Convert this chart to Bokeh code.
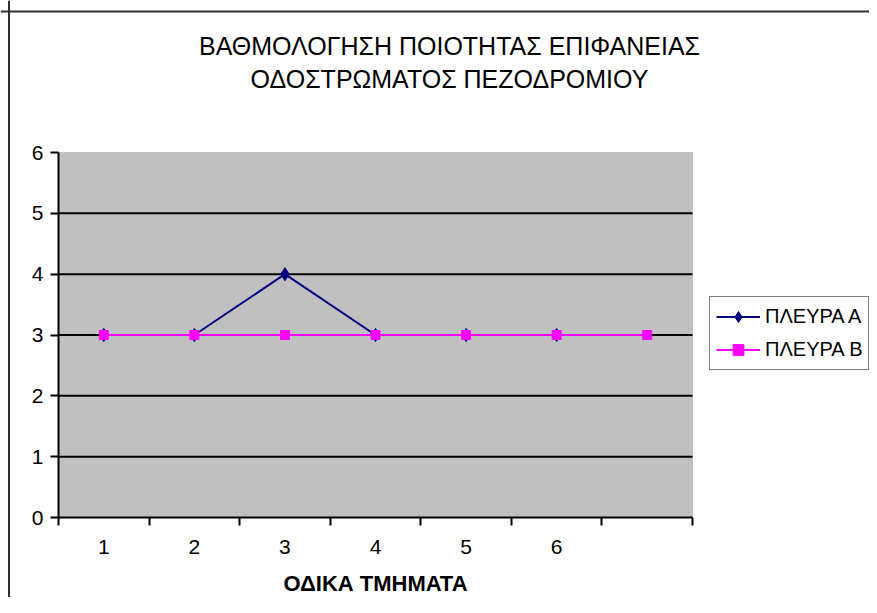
from bokeh.plotting import figure
from bokeh.models import Range1d, FixedTicker, Legend, LegendItem, Label, BoxAnnotation, Span
from bokeh.embed import file_html
from bokeh.resources import INLINE

# ---- data ----
title_lines = ["ΒΑΘΜΟΛΟΓΗΣΗ ΠΟΙΟΤΗΤΑΣ ΕΠΙΦΑΝΕΙΑΣ", "ΟΔΟΣΤΡΩΜΑΤΟΣ ΠΕΖΟΔΡΟΜΙΟΥ"]
x_title = "ΟΔΙΚΑ ΤΜΗΜΑΤΑ"
categories = ["1", "2", "3", "4", "5", "6", ""]
side_a_name = "ΠΛΕΥΡΑ Α"
side_b_name = "ΠΛΕΥΡΑ Β"
side_a = [3, 3, 4, 3, 3, 3]
side_b = [3, 3, 3, 3, 3, 3, 3]
y_ticks = [0, 1, 2, 3, 4, 5, 6]
grid_levels = [1, 2, 3, 4, 5]

FONT = "Liberation Sans"

n = len(categories)
pos = list(range(1, n + 1))
xa = pos[:len(side_a)]
xb = pos[:len(side_b)]
x_lo, x_hi = 0.5, n + 0.5
y_lo, y_hi = y_ticks[0], y_ticks[-1]

# ---- layout (pixels) ----
W, H = 869, 597
PA_LEFT, PA_RIGHT = 58, 692   # plot area inside canvas
PA_TOP, PA_BOTTOM = 152, 517
px_x = (PA_RIGHT - PA_LEFT) / (x_hi - x_lo)
px_y = (PA_BOTTOM - PA_TOP) / (y_hi - y_lo)
xr = Range1d(x_lo - PA_LEFT / px_x, x_hi + (W - PA_RIGHT) / px_x)
yr = Range1d(y_lo - (H - PA_BOTTOM) / px_y, y_hi + PA_TOP / px_y)

p = figure(width=W, height=H, output_backend="svg", toolbar_location=None,
           x_range=xr, y_range=yr,
           min_border=0, min_border_left=0, min_border_right=0, min_border_top=0, min_border_bottom=0,
           background_fill_color="white", border_fill_color="white")
p.outline_line_color = None
p.xgrid.visible = False
p.ygrid.visible = False

# plot area
p.add_layout(BoxAnnotation(left=x_lo, right=x_hi, bottom=y_lo, top=y_hi,
                           fill_color="#C0C0C0", fill_alpha=1,
                           line_color="#808080", line_width=1, level="underlay"))
# horizontal gridlines
p.segment(x0=[x_lo] * len(grid_levels), x1=[x_hi] * len(grid_levels),
          y0=grid_levels, y1=grid_levels, line_color="black", line_width=2)

# outer chart border (left and top edges)
p.add_layout(Span(location=xr.start + 8.5 / px_x, dimension="height", line_color="#303030", line_width=2))
p.add_layout(Span(location=yr.end - 11 / px_y, dimension="width", line_color="#303030", line_width=2))

# x axis
xax = p.xaxis[0]
xax.fixed_location = y_lo
xax.bounds = (x_lo, x_hi)
xax.ticker = FixedTicker(ticks=pos, minor_ticks=[i + 0.5 for i in range(0, n + 1)])
xax.major_label_overrides = {i: c for i, c in zip(pos, categories)}
xax.major_tick_out = 0
xax.major_tick_in = 0
xax.minor_tick_out = 8
xax.minor_tick_in = 0
xax.minor_tick_line_color = "black"
xax.minor_tick_line_width = 2
xax.axis_line_color = "black"
xax.axis_line_width = 2
xax.major_label_standoff = 14
xax.major_label_text_font = FONT
xax.major_label_text_font_size = "21px"
xax.major_label_text_color = "black"
xax.axis_label = x_title
xax.axis_label_standoff = 14
xax.axis_label_text_font = FONT
xax.axis_label_text_font_size = "22px"
xax.axis_label_text_font_style = "bold"
xax.axis_label_text_color = "black"

# y axis
yax = p.yaxis[0]
yax.fixed_location = x_lo
yax.bounds = (y_lo, y_hi)
yax.ticker = FixedTicker(ticks=y_ticks)
yax.major_tick_out = 8
yax.major_tick_in = 0
yax.major_tick_line_color = "black"
yax.major_tick_line_width = 2
yax.minor_tick_line_color = None
yax.axis_line_color = "black"
yax.axis_line_width = 2
yax.major_label_standoff = 7
yax.major_label_text_font = FONT
yax.major_label_text_font_size = "21px"
yax.major_label_text_color = "black"

# series
la = p.line(xa, side_a, line_color="#000080", line_width=2)
ma = p.scatter(xa, side_a, marker="diamond", size=13, fill_color="#000080", line_color="#000080")
lb = p.line(xb, side_b, line_color="#FF00FF", line_width=2)
mb = p.scatter(xb, side_b, marker="square", size=9, fill_color="#FF00FF", line_color="#FF00FF")

legend = Legend(items=[LegendItem(label=side_a_name, renderers=[la, ma]),
                       LegendItem(label=side_b_name, renderers=[lb, mb])],
                location=(709, H - 370), orientation="vertical",
                padding=6, spacing=6, margin=0,
                glyph_width=44, glyph_height=27, label_height=27, label_standoff=5,
                label_text_font=FONT, label_text_font_size="20px", label_text_color="black",
                border_line_color="black", border_line_width=1.5,
                background_fill_color="white", background_fill_alpha=1)
p.add_layout(legend, "center")

# titles
for txt, yy in zip(title_lines, [H - 45, H - 78]):
    p.add_layout(Label(x=449, y=yy, x_units="screen", y_units="screen", text=txt,
                       text_align="center", text_baseline="middle", text_font=FONT,
                       text_font_size="25px", text_color="black"))

open("out.html", "w").write(file_html(p, INLINE))
